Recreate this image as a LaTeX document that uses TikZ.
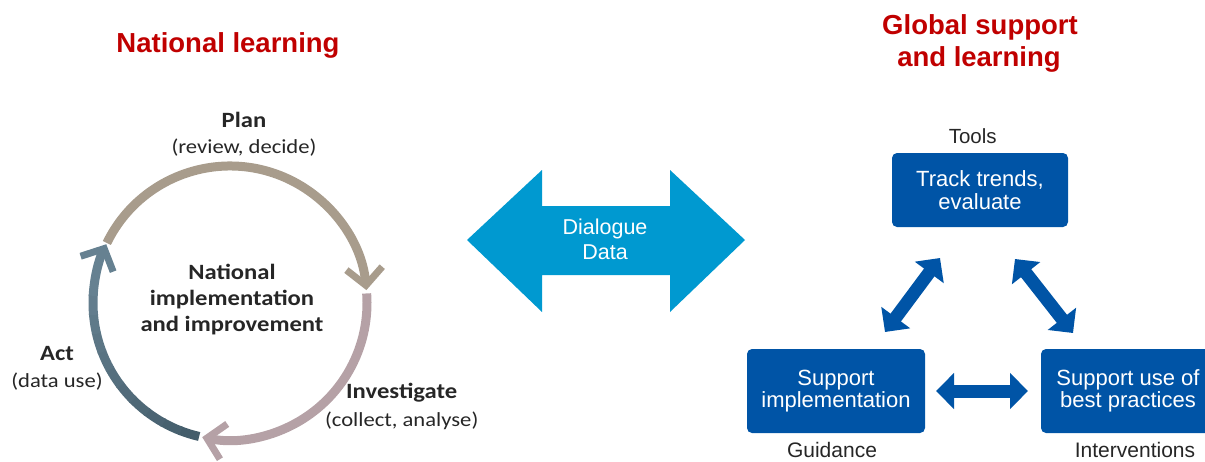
\documentclass[tikz,border=0pt]{standalone}
\usepackage{fontspec}
\usetikzlibrary{arrows.meta,calc}
\newfontfamily\arialfont{Liberation Sans}
\newfontfamily\calfont[FakeStretch=1.13]{Carlito}
\definecolor{titlered}{HTML}{C00000}
\definecolor{boxblue}{HTML}{0054A6}
\definecolor{lightblue}{HTML}{0099D0}
\definecolor{cyctan}{HTML}{A89C8C}
\definecolor{cycpink}{HTML}{B5A1A6}
\definecolor{slatedeep}{HTML}{445D6B}
\definecolor{slatelight}{HTML}{6A8595}
\definecolor{labelgray}{HTML}{262626}

\tikzset{
  title/.style={anchor=base, inner sep=0pt, text=titlered, font=\arialfont\bfseries\fontsize{27.5}{32}\selectfont},
  cyclehead/.style={anchor=base, inner sep=0pt, text=labelgray, font=\calfont\bfseries\fontsize{21.8}{26}\selectfont},
  cyclesub/.style={anchor=base, inner sep=0pt, text=labelgray, font=\calfont\fontsize{20}{24}\selectfont},
  cycleline/.style={line width=9pt},
  cyclearc/.style={line width=9pt, arrows={-Straight Barb[length=17pt,width=36pt,line width=7pt]}},
  stepbox/.style={fill=boxblue, rounded corners=5pt, inner sep=0pt, text=white, align=center,
    font=\arialfont\fontsize{22}{22.5}\selectfont},
  caption/.style={anchor=base, inner sep=0pt, text=labelgray, font=\arialfont\fontsize{21}{24}\selectfont},
  linkarrow/.style={draw=boxblue, line width=13pt,
    arrows={Triangle[length=18pt,width=35pt]-Triangle[length=18pt,width=35pt]}},
}

\begin{document}
\begin{tikzpicture}[x=1pt,y=-1pt]
\useasboundingbox (0,0) rectangle (1205,461);
\clip (0,0) rectangle (1205,461);

% ---------- titles ----------
\node[title] (natlearn) at (228,52) {National learning};
\node[title] (glob1) at (980,34.3) {Global support};
\node[title] (glob2) at (979,66.7) {and learning};

% ---------- national cycle ----------
\coordinate (cc) at (230,303);
% plan: tan arc over the top
\draw[cyclearc, cyctan]   ($(cc)+(-154:137)$) arc[start angle=-154, end angle=-5.4, radius=137];
% investigate: pink arc down the right side
\draw[cyclearc, cycpink]  ($(cc)+(-4:137)$)   arc[start angle=-4, end angle=101.7, radius=137];
% act: slate arc, darker at the bottom, fading lighter towards the top
\foreach \k in {0,...,9} {
  \pgfmathsetmacro{\aS}{103+\k*8}
  \pgfmathsetmacro{\aE}{\aS+8.6}
  \pgfmathsetmacro{\pct}{100-\k*9}
  \draw[cycleline, draw=slatedeep!\pct!slatelight]
    ($(cc)+(\aS:137)$) arc[start angle=\aS, end angle=\aE, radius=137];
}
\draw[cyclearc, draw=slatedeep!10!slatelight] ($(cc)+(183:137)$) arc[start angle=183, end angle=205.4, radius=137];

\node[cyclehead] (plan) at (244,127.7) {Plan};
\node[cyclesub] (plansub) at (244,153.3) {(review, decide)};
\node[cyclehead] (core1) at (232,279.3) {National};
\node[cyclehead] (core2) at (232,305) {implementation};
\node[cyclehead] (core3) at (232,331.7) {and improvement};
\node[cyclehead] (act) at (57,360) {Act};
\node[cyclesub] (actsub) at (57,387.7) {(data use)};
\node[cyclehead] (inv) at (401.7,398.3) {Investigate};
\node[cyclesub] (invsub) at (401.7,426.7) {(collect, analyse)};

% ---------- dialogue arrow ----------
\fill[lightblue] (467,240) -- (542,170) -- (542,206) -- (670,206) -- (670,170)
  -- (745,240) -- (670,312) -- (670,275) -- (542,275) -- (542,312) -- cycle;
\node[anchor=base, inner sep=0pt, text=white, font=\arialfont\fontsize{21.5}{24}\selectfont] (dia1) at (605,234) {Dialogue};
\node[anchor=base, inner sep=0pt, text=white, font=\arialfont\fontsize{21.5}{24}\selectfont] (dia2) at (605,259) {Data};

% ---------- global support triangle ----------
\node[stepbox, minimum width=176pt, minimum height=74pt] (track) at (980,190) {Track trends,\\evaluate};
\node[stepbox, minimum width=178pt, minimum height=84pt] (impl) at (836,391) {Support\\implementation};
\node[stepbox, minimum width=174pt, minimum height=84pt] (best) at (1128,391) {Support use of\\best practices};

\node[caption, font=\arialfont\fontsize{20.5}{24}\selectfont] (tools) at (972.7,143.3) {Tools};
\node[caption] (guid) at (832,457.5) {Guidance};
\node[caption] (intv) at (1135,457.5) {Interventions};

\coordinate (ltop) at (940,258);
\coordinate (lbot) at (885,332);
\coordinate (rtop) at (1015,259);
\coordinate (rbot) at (1073,333);
\coordinate (hleft) at (936,391);
\coordinate (hright) at (1028,391);
\draw[linkarrow] (ltop) -- (lbot);
\draw[linkarrow] (rtop) -- (rbot);
\draw[linkarrow] (hleft) -- (hright);
\end{tikzpicture}
\end{document}
